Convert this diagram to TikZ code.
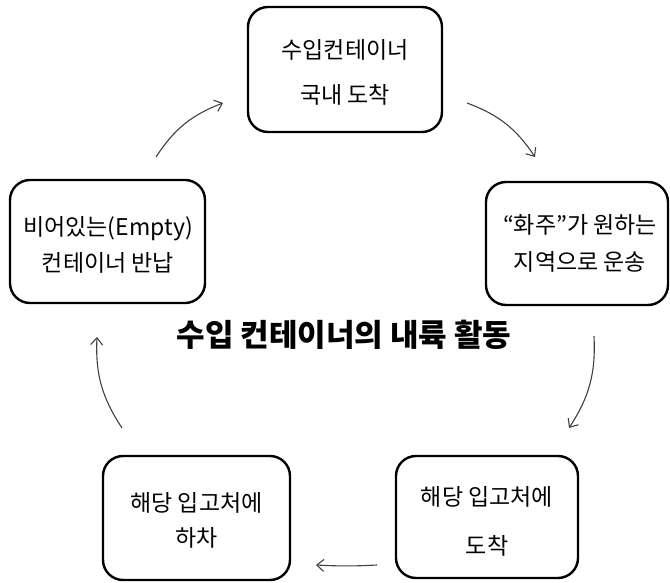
\documentclass[tikz,border=0pt]{standalone}
\usepackage{fontspec}
\setmainfont{Noto Sans CJK KR}
\usetikzlibrary{arrows.meta}
\tikzset{
  stagebox/.style={draw=black, line width=2.4pt, rounded corners=20pt, fill=white},
  stagetext/.style={align=center, font=\fontsize{23}{27}\selectfont, text=black},
  flow/.style={draw=black!75, line width=1.1pt, -{Straight Barb[length=7pt,width=12pt]}, bend left=18},
}
\begin{document}
\begin{tikzpicture}[x=1pt,y=1pt]
\useasboundingbox (0,0) rectangle (670,582);
% boxes
\node[stagebox, minimum width=194pt, minimum height=125pt] (top) at (345,512.5) {};
\node[stagebox, minimum width=182pt, minimum height=123pt] (right) at (577,338.5) {};
\node[stagebox, minimum width=182pt, minimum height=122pt] (br) at (487,65) {};
\node[stagebox, minimum width=187pt, minimum height=124pt] (bl) at (196.5,64) {};
\node[stagebox, minimum width=195pt, minimum height=123pt] (left) at (107.5,340.5) {};
% texts
\node[stagetext] (toptext) at (345,509.5) {수입컨테이너\\[18pt]국내 도착};
\node[stagetext] (righttext) at (580,338.5) {“화주”가 원하는\\[10pt]지역으로 운송};
\node[stagetext] (brtext) at (487,60.5) {해당 입고처에\\[22pt]도착};
\node[stagetext] (bltext) at (196.5,62) {해당 입고처에\\[8pt]하차};
\node[stagetext] (lefttext) at (108,337) {비어있는(Empty)\\[9pt]컨테이너 반납};
% title
\node[font=\fontsize{31}{37}\selectfont\bfseries] (title) at (344,247) {수입 컨테이너의 내륙 활동};
% arrow end points
\coordinate (a1s) at (467,479); \coordinate (a1e) at (535,425);
\coordinate (a2s) at (594,246); \coordinate (a2e) at (569,154);
\coordinate (a3s) at (377,17);  \coordinate (a3e) at (316,17);
\coordinate (a4s) at (122,154); \coordinate (a4e) at (97,245);
\coordinate (a5s) at (156,425); \coordinate (a5e) at (223,479);
\draw[flow] (a1s) to (a1e);
\draw[flow] (a2s) to (a2e);
\draw[flow, bend left=3] (a3s) to (a3e);
\draw[flow] (a4s) to (a4e);
\draw[flow] (a5s) to (a5e);
\end{tikzpicture}
\end{document}
